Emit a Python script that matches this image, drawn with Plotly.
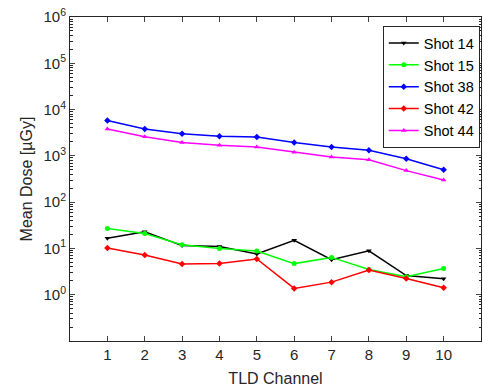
import plotly.graph_objects as go

channels = [1, 2, 3, 4, 5, 6, 7, 8, 9, 10]
shot14 = [16.5, 23, 11.5, 11, 7.6, 15, 5.7, 8.9, 2.6, 2.2]
shot15 = [27, 21, 12, 10, 8.8, 4.7, 6.4, 3.5, 2.45, 3.7]
shot38 = [5800, 3800, 3000, 2650, 2550, 1950, 1550, 1320, 870, 500]
shot42 = [10.2, 7.2, 4.6, 4.7, 5.9, 1.37, 1.87, 3.4, 2.25, 1.42]
shot44 = [3800, 2600, 1950, 1700, 1550, 1200, 940, 820, 480, 300]

series = [
    ("Shot 14", shot14, "#000000", "triangle-down"),
    ("Shot 15", shot15, "#00ff00", "circle"),
    ("Shot 38", shot38, "#0000ff", "diamond"),
    ("Shot 42", shot42, "#ff0000", "diamond"),
    ("Shot 44", shot44, "#ff00ff", "triangle-up"),
]

decades = list(range(-1, 7))
ytick_vals = [10 ** d for d in range(0, 7)]
ytick_text = [f"10<sup>{d}</sup>" for d in range(0, 7)]
minor_vals = [m * 10 ** d for d in decades[:-1] for m in range(2, 10)]

fig = go.Figure()
for name, vals, color, sym in series:
    fig.add_trace(go.Scatter(
        x=channels, y=vals, name=name, mode="lines+markers",
        line=dict(color=color, width=1.5),
        marker=dict(symbol=sym, size=5, color=color),
    ))

axis_color = "#262626"
fig.update_layout(
    width=483, height=389,
    margin=dict(l=70, r=2, t=17, b=48),
    paper_bgcolor="white", plot_bgcolor="white",
    font=dict(family="Liberation Sans, Arial, sans-serif", size=15, color=axis_color),
    showlegend=True,
    legend=dict(
        x=0.997, y=0.972, xanchor="right", yanchor="top",
        bgcolor="white", bordercolor=axis_color, borderwidth=1,
        font=dict(size=14.5, color="#000000"),
        itemwidth=30, tracegroupgap=0,
    ),
    xaxis=dict(
        range=[0, 11], tickvals=channels, ticktext=[str(c) for c in channels],
        ticks="inside", ticklen=5, showgrid=False, zeroline=False,
        showline=True, linecolor=axis_color, linewidth=1, mirror="allticks",
        title=dict(text="TLD Channel", font=dict(size=16), standoff=10),
    ),
    yaxis=dict(
        type="log", range=[-1, 6], tickvals=ytick_vals, ticktext=ytick_text,
        ticks="inside", ticklen=5, showgrid=False, zeroline=False,
        showline=True, linecolor=axis_color, linewidth=1, mirror="allticks",
        minor=dict(tickvals=minor_vals, ticks="inside", ticklen=2.5, tickcolor=axis_color, showgrid=False),
        title=dict(text="Mean Dose [µGy]", font=dict(size=16), standoff=6),
    ),
)

fig.write_html("out.html")
